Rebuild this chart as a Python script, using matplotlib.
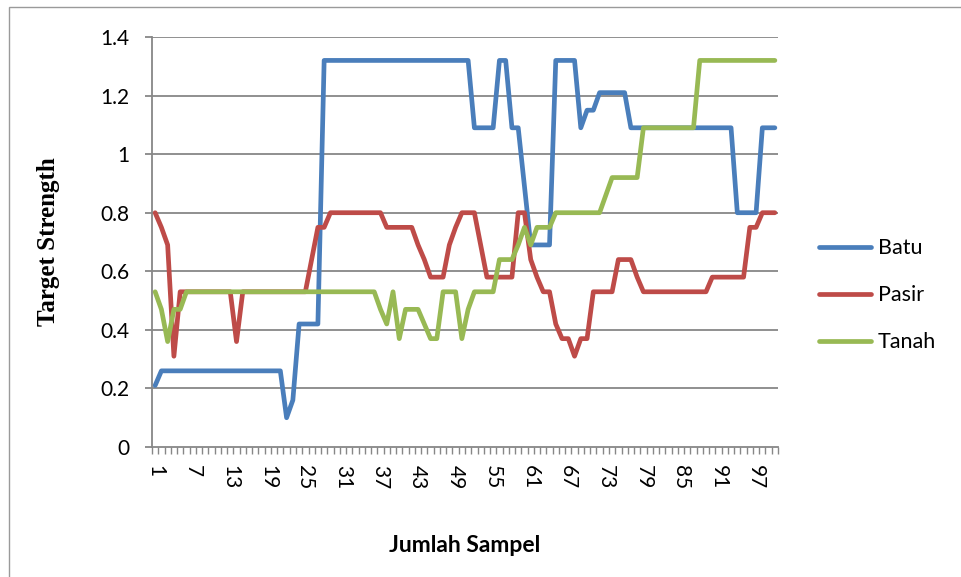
import matplotlib
matplotlib.use("Agg")
import matplotlib.pyplot as plt
from matplotlib.patches import Rectangle
import numpy as np

# Sample index 1..100
samples = list(range(1, 101))

batu = ([0.21] + [0.26] * 20 + [0.10, 0.16] + [0.42] * 4 + [1.32] * 24
        + [1.09] * 4 + [1.32] * 2 + [1.09] * 2 + [0.89] + [0.69] * 4
        + [1.32] * 4 + [1.09] + [1.15] * 2 + [1.21] * 5 + [1.09] * 17
        + [0.80] * 4 + [1.09] * 3)

pasir = ([0.80, 0.75, 0.69, 0.31] + [0.53] * 9 + [0.36] + [0.53] * 11
         + [0.64] + [0.75] * 2 + [0.80] * 9 + [0.75] * 5 + [0.69, 0.64]
         + [0.58] * 3 + [0.69, 0.75] + [0.80] * 3 + [0.69] + [0.58] * 5
         + [0.80] * 2 + [0.64, 0.58, 0.53, 0.53, 0.42, 0.37, 0.37, 0.31, 0.37, 0.37]
         + [0.53] * 4 + [0.64] * 3 + [0.58] + [0.53] * 11 + [0.58] * 6
         + [0.75] * 2 + [0.80] * 3)

tanah = ([0.53, 0.47, 0.36, 0.47, 0.47] + [0.53] * 31
         + [0.47, 0.42, 0.53, 0.37, 0.47, 0.47, 0.47, 0.42, 0.37, 0.37]
         + [0.53] * 3 + [0.37, 0.47] + [0.53] * 4 + [0.64] * 3
         + [0.69, 0.75, 0.69] + [0.75] * 3 + [0.80] * 8 + [0.86]
         + [0.92] * 5 + [1.09] * 9 + [1.32] * 13)

series_names = ["Batu", "Pasir", "Tanah"]
series_colors = ["#4A7EBB", "#BE4B48", "#98B954"]

tick_labels = [str(v) for v in range(1, 101, 6)]
y_ticks = [0, 0.2, 0.4, 0.6, 0.8, 1, 1.2, 1.4]
y_tick_labels = ["0", "0.2", "0.4", "0.6", "0.8", "1", "1.2", "1.4"]

W, H = 962, 577
fig = plt.figure(figsize=(W / 100, H / 100), dpi=100)
fig.patch.set_facecolor("white")

# light frame around the chart area
fig.patches.append(Rectangle((9 / W, -0.01), 1.0, 1 - 7 / H + 0.01,
                             transform=fig.transFigure, fill=False,
                             edgecolor="#9a9a9a", linewidth=1.0))

ax = fig.add_axes([152 / W, (H - 447) / H, 626 / W, 410 / H])
ax.set_facecolor("none")

grid_color = "#878787"
for y in y_ticks[1:]:
    ax.axhline(y, color=grid_color, linewidth=1.3, zorder=1)

for name, vals, col in zip(series_names, [batu, pasir, tanah], series_colors):
    ax.plot(samples, vals, color=col, linewidth=3.4, label=name,
            solid_joinstyle="round", solid_capstyle="round", zorder=3)

ax.set_xlim(0.5, 100.5)
ax.set_ylim(0, 1.4)

for side in ["top", "right"]:
    ax.spines[side].set_visible(False)
for side in ["left", "bottom"]:
    ax.spines[side].set_color(grid_color)
    ax.spines[side].set_linewidth(1.3)

tick_font = "Lato"
ax.set_yticks(y_ticks)
ax.set_yticklabels(y_tick_labels, fontsize=15, family=tick_font)
ax.tick_params(axis="y", length=5, width=1.3, color=grid_color, pad=11)

ax.set_xticks(list(range(1, 101, 6)))
ax.set_xticklabels(tick_labels, rotation=-90, fontsize=15, family=tick_font,
                   va="top", ha="center")
ax.tick_params(axis="x", which="major", length=0, pad=13)
ax.set_xticks(np.arange(0.5, 101, 1.0), minor=True)
ax.tick_params(axis="x", which="minor", length=5, width=1.0, color=grid_color)

ax.set_xlabel("Jumlah Sampel", fontsize=16.5, fontweight="bold", family="Lato")
ax.xaxis.set_label_coords(0.5, -0.215)
ax.set_ylabel("Target Strength", fontsize=18, fontweight="bold",
              family="Liberation Serif")
ax.yaxis.set_label_coords(-0.147, 0.502)

leg = ax.legend(loc="center left", bbox_to_anchor=(1.065, 0.37), frameon=False,
                prop={"family": tick_font, "size": 15.5}, handlelength=2.45,
                handletextpad=0.3, labelspacing=1.25, borderpad=0,
                borderaxespad=0)

fig.savefig("out.png", dpi=100)
